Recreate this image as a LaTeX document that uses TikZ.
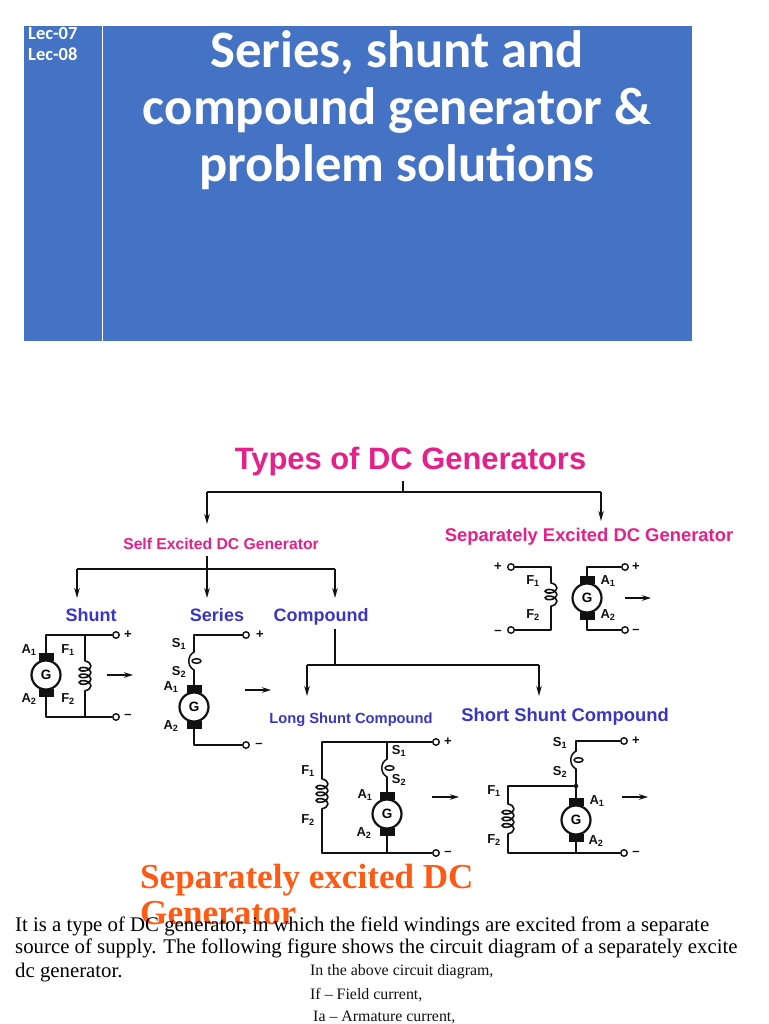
\documentclass[tikz,border=0pt]{standalone}
\usepackage{fontspec}
\setmainfont{Liberation Serif}
\setsansfont{Liberation Sans}
\newfontfamily\headfont{Carlito}
\usetikzlibrary{arrows.meta,decorations.pathmorphing,calc}
\definecolor{headblue}{HTML}{4472C4}
\definecolor{magentatxt}{HTML}{E5208A}
\definecolor{bluetxt}{HTML}{3A36C4}
\definecolor{orangetxt}{HTML}{FF5A14}
\definecolor{ink}{HTML}{111111}
\newcommand{\fs}[1]{\fontsize{#1}{#1}\selectfont}
\tikzset{
  wire/.style={draw=ink,line width=1.5pt,line cap=round,line join=round},
  tree/.style={draw=ink,line width=1.6pt,line join=round},
  treearrow/.style={tree,-{Stealth[length=10pt,width=5.5pt]}},
  flow/.style={draw=ink,line width=1.5pt,-{Stealth[length=9pt,width=5.5pt]}},
  term/.style={circle,draw=ink,line width=1.4pt,fill=white,minimum size=6.5pt,inner sep=0pt},
  armature/.style={circle,draw=ink,line width=2.2pt,fill=white,minimum size=29pt,inner sep=0pt,font=\sffamily\bfseries\fs{13.5}},
  brush/.style={fill=ink,draw=none,minimum width=15pt,minimum height=8pt,inner sep=0pt},
  pin/.style={font=\sffamily\bfseries\fs{13},text=ink,inner sep=0pt},
  sign/.style={font=\sffamily\bfseries\fs{13},text=ink,inner sep=0pt},
  fieldcoil/.style={wire,line width=1.6pt,decorate,decoration={coil,amplitude=6pt,segment length=6.6pt,aspect=0.55,pre length=1pt,post length=1pt}},
  pinkhead/.style={font=\sffamily\bfseries,text=magentatxt,inner sep=0pt,anchor=base},
  bluehead/.style={font=\sffamily\bfseries,text=bluetxt,inner sep=0pt,anchor=base},
}
% generator: circle with two brushes
\newcommand{\gen}[3]{%
  \node[brush] (#1t) at (#2,#3-18) {};
  \node[brush] (#1b) at (#2,#3+18) {};
  \node[armature] (#1) at (#2,#3) {G};
}
% small series coil: entry coordinate, loop, exit coordinate
\newcommand{\seriescoil}[3]{%
  \coordinate (#1u) at (#2,#3-9);
  \coordinate (#1d) at (#2,#3+9);
  \draw[wire] (#1u) .. controls (#2-7,#3-5) and (#2-7,#3+5) .. (#1d);
  \draw[wire] (#2+2.5,#3) ellipse (4.5pt and 2.3pt);
}
\begin{document}
\begin{tikzpicture}[x=1pt,y=-1pt]
\path[fill=white] (0,0) rectangle (768,1024);
\useasboundingbox (0,0) rectangle (768,1024);

% header
\path[fill=headblue] (24,26) rectangle (692,341);
\coordinate (divt) at (102,26);
\coordinate (divb) at (102,341);
\draw[white,line width=1pt] (divt) -- (divb);
\node[anchor=west,inner sep=0pt,text=white,font=\headfont\bfseries\fs{18.5}] (lec1) at (28,34) {Lec-07};
\node[anchor=west,inner sep=0pt,text=white,font=\headfont\bfseries\fs{18.5}] (lec2) at (28,54.5) {Lec-08};
\node[anchor=base,inner sep=0pt,text=white,font=\headfont\bfseries\fs{52.6}] (title1) at (397,68) {Series, shunt and};
\node[anchor=base,inner sep=0pt,text=white,font=\headfont\bfseries\fs{52.6}] (title2) at (397,125) {compound generator \&};
\node[anchor=base,inner sep=0pt,text=white,font=\headfont\bfseries\fs{52.6}] (title3) at (397,182) {problem solutions};

% tree
\node[pinkhead,font=\sffamily\bfseries\fs{30.9}] (types) at (410.5,469) {Types of DC Generators};
\coordinate (trunk) at (403,481);
\coordinate (tj) at (403,492);
\coordinate (tl) at (207,492);
\coordinate (tr) at (601,492);
\node[pinkhead,font=\sffamily\bfseries\fs{15.7}] (self) at (221,549) {Self Excited DC Generator};
\node[pinkhead,font=\sffamily\bfseries\fs{18.4}] (sep) at (589,541) {Separately Excited DC Generator};
\draw[tree] (trunk) -- (tj);
\draw[tree] (tl) -- (tr);
\draw[treearrow] (tl) -- (207,524);
\draw[treearrow] (tr) -- (601,521);

\coordinate (st) at (207,556);
\coordinate (sl) at (77,569);
\coordinate (sm) at (207,569);
\coordinate (sr) at (335,569);
\node[bluehead,font=\sffamily\bfseries\fs{18}] (shunt) at (91,621.5) {Shunt};
\node[bluehead,font=\sffamily\bfseries\fs{18}] (series) at (217,621.5) {Series};
\node[bluehead,font=\sffamily\bfseries\fs{18}] (compound) at (321,621.5) {Compound};
\draw[tree] (st) -- (sm);
\draw[tree] (sl) -- (sr);
\draw[treearrow] (sl) -- (77,598);
\draw[treearrow] (sm) -- (207,598);
\draw[treearrow] (sr) -- (335,598);

\coordinate (ct) at (335,629);
\coordinate (cj) at (335,665);
\coordinate (cl) at (307,665);
\coordinate (cr) at (539,665);
\draw[tree] (ct) -- (cj);
\draw[tree] (cl) -- (cr);
\draw[treearrow] (cl) -- (307,696);
\draw[treearrow] (cr) -- (539,696);
\node[bluehead,font=\sffamily\bfseries\fs{14.7}] (long) at (351,723.5) {Long Shunt Compound};
\node[bluehead,font=\sffamily\bfseries\fs{18.4}] (short) at (565,721) {Short Shunt Compound};

% shunt circuit
\gen{ga}{46}{675}
\node[term] (a1) at (116,635) {};
\node[term] (a2) at (116,717) {};
\coordinate (af1) at (85,635);
\coordinate (af2) at (85,717);
\coordinate (afa) at (85,660);
\coordinate (afb) at (85,693);
\draw[wire] (gat.north) |- (a1.west);
\draw[wire] (gab.south) |- (a2.west);
\draw[wire] (af1) -- (afa);
\draw[fieldcoil] (afa) -- (afb);
\draw[wire] (afb) -- (af2);
\node[sign] (ap) at (128,634.5) {+};
\node[sign] (am) at (128,716) {–};
\draw[flow] (107,675) -- (133,675);
\node[pin] at (29,650) {A\textsubscript{1}};
\node[pin] at (29,699) {A\textsubscript{2}};
\node[pin] at (68,650) {F\textsubscript{1}};
\node[pin] at (68,699) {F\textsubscript{2}};

% series circuit
\gen{gb}{194}{707}
\node[term] (b1) at (246,635) {};
\node[term] (b2) at (246,745) {};
\seriescoil{bs}{194}{661}
\draw[wire] (bsu) |- (b1.west);
\draw[wire] (bsd) -- (gbt.north);
\draw[wire] (gbb.south) |- (b2.west);
\node[sign] (bp) at (260,634.5) {+};
\node[sign] (bm) at (259,745) {–};
\draw[flow] (245,690) -- (271,690);
\node[pin] at (179,644) {S\textsubscript{1}};
\node[pin] at (179,672) {S\textsubscript{2}};
\node[pin] at (171,687) {A\textsubscript{1}};
\node[pin] at (171,726) {A\textsubscript{2}};

% separately excited circuit
\gen{gc}{587}{598}
\node[term] (c1) at (511,567) {};
\node[term] (c2) at (511,630) {};
\node[term] (c3) at (625,567) {};
\node[term] (c4) at (625,630) {};
\coordinate (cfa) at (551,582);
\coordinate (cfb) at (551,613);
\draw[wire] (c1.east) -| (cfa);
\draw[wire] (c2.east) -| (cfb);
\draw[fieldcoil] (cfa) -- (cfb);
\draw[wire] (gct.north) |- (c3.west);
\draw[wire] (gcb.south) |- (c4.west);
\node[sign] at (498,567) {+};
\node[sign] at (498,632) {–};
\node[sign] at (636,567) {+};
\node[sign] at (636,631) {–};
\draw[flow] (625,598) -- (651,598);
\node[pin] at (533,581) {F\textsubscript{1}};
\node[pin] at (533,615) {F\textsubscript{2}};
\node[pin] at (608,581) {A\textsubscript{1}};
\node[pin] at (608,615) {A\textsubscript{2}};

% long shunt circuit
\gen{gd}{387}{814}
\node[term] (d1) at (436,742) {};
\node[term] (d2) at (436,853) {};
\coordinate (dtl) at (322,742);
\coordinate (dbl) at (322,853);
\coordinate (dfa) at (322,778);
\coordinate (dfb) at (322,816);
\coordinate (dtj) at (387,742);
\coordinate (dbj) at (387,853);
\seriescoil{ds}{387}{768}
\draw[wire] (dtl) -- (d1.west);
\draw[wire] (dbl) -- (d2.west);
\draw[wire] (dtl) -- (dfa);
\draw[fieldcoil] (dfa) -- (dfb);
\draw[wire] (dfb) -- (dbl);
\draw[wire] (dtj) -- (dsu);
\draw[wire] (dsd) -- (gdt.north);
\draw[wire] (gdb.south) -- (dbj);
\node[sign] at (448,741.5) {+};
\node[sign] at (448,853) {–};
\draw[flow] (432,797) -- (459,797);
\node[pin] at (399,751) {S\textsubscript{1}};
\node[pin] at (399,780) {S\textsubscript{2}};
\node[pin] at (308,771) {F\textsubscript{1}};
\node[pin] at (308,820) {F\textsubscript{2}};
\node[pin] at (365,795) {A\textsubscript{1}};
\node[pin] at (364,833) {A\textsubscript{2}};

% short shunt circuit
\gen{ge}{576}{820}
\node[term] (e1) at (624,741) {};
\node[term] (e2) at (624,853) {};
\seriescoil{es}{576}{760}
\node[circle,fill=ink,minimum size=4.5pt,inner sep=0pt] (ej) at (576,786) {};
\coordinate (etl) at (508,786);
\coordinate (ebl) at (508,853);
\coordinate (efa) at (508,803);
\coordinate (efb) at (508,836);
\coordinate (ebj) at (576,853);
\draw[wire] (esu) |- (e1.west);
\draw[wire] (esd) -- (ej);
\draw[wire] (ej) -- (get.north);
\draw[wire] (ej) -- (etl) -- (efa);
\draw[fieldcoil] (efa) -- (efb);
\draw[wire] (efb) -- (ebl) -- (e2.west);
\draw[wire] (geb.south) -- (ebj);
\node[sign] at (636,741) {+};
\node[sign] at (636,853) {–};
\draw[flow] (622,797) -- (648,797);
\node[pin] at (560,743) {S\textsubscript{1}};
\node[pin] at (560,772) {S\textsubscript{2}};
\node[pin] at (494,791) {F\textsubscript{1}};
\node[pin] at (494,840) {F\textsubscript{2}};
\node[pin] at (597,801) {A\textsubscript{1}};
\node[pin] at (596,841) {A\textsubscript{2}};

% lower text
\node[anchor=base west,inner sep=0pt,text=orangetxt,font=\rmfamily\bfseries\fs{35.1}] (or1) at (140,888) {Separately excited DC};
\node[anchor=base west,inner sep=0pt,text=orangetxt,font=\rmfamily\bfseries\fs{35.1}] (or2) at (140,924) {Generator};
\node[anchor=base west,inner sep=0pt,text=black,font=\rmfamily\fs{20.8}] (p1) at (15,931) {It is a type of DC generator, in which the field windings are excited from a separate};
\node[anchor=base west,inner sep=0pt,text=black,font=\rmfamily\fs{20.8}] (p2) at (15,953) {source of supply. The following figure shows the circuit diagram of a separately excite};
\node[anchor=base west,inner sep=0pt,text=black,font=\rmfamily\fs{20.8}] (p3) at (15,977) {dc generator.};
\node[anchor=base west,inner sep=0pt,text=ink,font=\rmfamily\fs{15.9}] (q1) at (310,975) {In the above circuit diagram,};
\node[anchor=base west,inner sep=0pt,text=ink,font=\rmfamily\fs{15.9}] (q2) at (310,999) {If – Field current,};
\node[anchor=base west,inner sep=0pt,text=ink,font=\rmfamily\fs{15.9}] (q3) at (313,1021.5) {Ia – Armature current,};
\end{tikzpicture}
\end{document}
